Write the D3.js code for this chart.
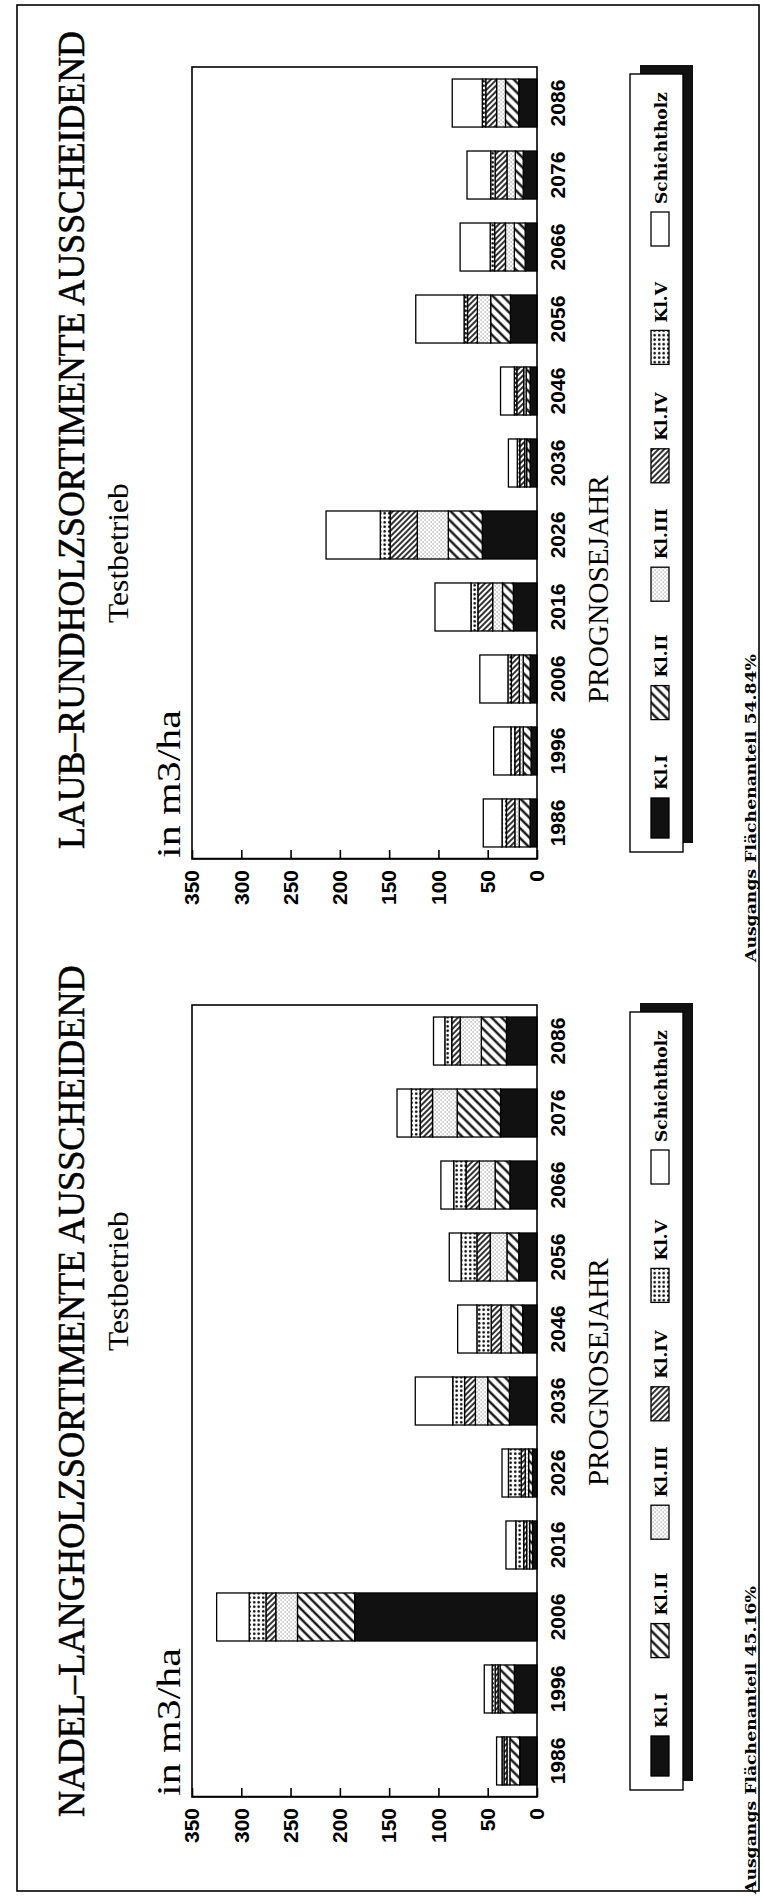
<!DOCTYPE html>
<html><head><meta charset="utf-8">
<script src="https://cdn.jsdelivr.net/npm/d3@7"></script>
<style>html,body{margin:0;padding:0;background:#fff;} svg{display:block}</style>
</head><body>
<svg id="c" width="763" height="1897"></svg>
<script>
// ---------- DATA ----------
const years = ["1986","1996","2006","2016","2026","2036","2046","2056","2066","2076","2086"];
const classes = ["Kl.I","Kl.II","Kl.III","Kl.IV","Kl.V","Schichtholz"];
const yTicks = [0,50,100,150,200,250,300,350];

// Nadel-Langholzsortimente (m3/ha)
const nadelKl1    = [17.5, 23, 185, 4.5, 4.5, 28, 14.5, 18.5, 27.5, 37, 31];
const nadelKl2    = [10, 14.5, 58, 3, 4, 22, 12, 12, 15, 44, 25.5];
const nadelKl3    = [3, 2, 22, 3, 3.5, 12.5, 10, 17, 16, 25, 21.5];
const nadelKl4    = [3, 3, 10, 3, 4, 11, 10, 13.5, 13.5, 12.5, 8.5];
const nadelKl5    = [2, 3, 17, 8, 13, 12, 14.5, 16, 12.5, 9, 7];
const nadelSchicht= [5.5, 8, 33, 10, 6.5, 38, 19.5, 12, 13, 14.5, 11.5];

// Laub-Rundholzsortimente (m3/ha)
const laubKl1     = [7, 6, 7, 24, 55.5, 7, 7, 27, 12, 14, 18.5];
const laubKl2     = [11, 8, 7, 11, 34.5, 3.5, 4, 20, 11, 8, 13.5];
const laubKl3     = [4.5, 3.5, 4, 10, 31.5, 2, 2.5, 13.5, 9, 8.5, 9];
const laubKl4     = [8.5, 5, 8, 15, 27.5, 5, 7, 10, 11, 12, 11];
const laubKl5     = [4.5, 4, 3.5, 7, 10, 2.5, 2.5, 3.5, 4.5, 4.5, 3.5];
const laubSchicht = [19, 17.5, 28.5, 36.5, 55, 9, 14, 49, 30.5, 24, 30.5];

const panels = [
  {u0:100, title:"NADEL\u2013LANGHOLZSORTIMENTE AUSSCHEIDEND", titleS:80, titleL:852, subC:616, progC:525,
   foot:"Ausgangs Fl\u00e4chenanteil 45.16%", footU:3,
   series:[nadelKl1,nadelKl2,nadelKl3,nadelKl4,nadelKl5,nadelSchicht]},
  {u0:1038, title:"LAUB\u2013RUNDHOLZSORTIMENTE AUSSCHEIDEND", titleS:1048, titleL:818, subC:1344, progC:1308,
   foot:"Ausgangs Fl\u00e4chenanteil 54.84%", footU:935,
   series:[laubKl1,laubKl2,laubKl3,laubKl4,laubKl5,laubSchicht]}
];

// ---------- LAYOUT ----------
const PW = 792, V0 = 537, V1 = 192;
const serif = "'Liberation Serif','Times New Roman',serif";
const sans = "'Liberation Sans',Arial,sans-serif";
const bserif = "'DejaVu Serif',serif";

const svg = d3.select('#c');
svg.append('rect').attr('width',763).attr('height',1897).attr('fill','#fff');
const defs = svg.append('defs');

function hatch(id, size, angle, w){
  const p = defs.append('pattern').attr('id',id).attr('patternUnits','userSpaceOnUse')
    .attr('width',size).attr('height',size).attr('patternTransform',`rotate(${angle})`);
  p.append('rect').attr('width',size).attr('height',size).attr('fill','#fff');
  p.append('line').attr('x1',size/2).attr('x2',size/2).attr('y1',-1).attr('y2',size+1)
    .attr('stroke','#000').attr('stroke-width',w);
}
hatch('p2', 7, 45, 2.2);
hatch('p4', 4, -45, 1.6);
{
  const p = defs.append('pattern').attr('id','p3').attr('patternUnits','userSpaceOnUse').attr('width',4).attr('height',4);
  p.append('rect').attr('width',4).attr('height',4).attr('fill','#fff');
  p.append('circle').attr('cx',1).attr('cy',1).attr('r',0.55).attr('fill','#444');
  p.append('circle').attr('cx',3).attr('cy',3).attr('r',0.55).attr('fill','#444');
}
{
  const p = defs.append('pattern').attr('id','p5').attr('patternUnits','userSpaceOnUse').attr('width',4.5).attr('height',4.5);
  p.append('rect').attr('width',4.5).attr('height',4.5).attr('fill','#fff');
  p.append('circle').attr('cx',2.25).attr('cy',2.25).attr('r',1.25).attr('fill','#000');
}
const fills = ['#111','url(#p2)','url(#p3)','url(#p4)','url(#p5)','#fff'];

const g = svg.append('g').attr('transform','translate(0,1897) rotate(-90)');

// text squeezed/stretched horizontally to a given length via transform
function fitText(parent, txt, u, v, len, anchor, attrs){
  const t = parent.append('text').attr('x',0).attr('y',0).text(txt);
  Object.entries(attrs).forEach(([k,val])=>t.attr(k,val));
  const nat = t.node().getComputedTextLength();
  const s = len/nat;
  const start = anchor==='middle' ? u - len/2 : u;
  t.attr('transform',`translate(${start},${v}) scale(${s},1)`);
  return t;
}

// outer frame
g.append('rect').attr('x',6).attr('y',17).attr('width',1886).attr('height',742)
  .attr('fill','none').attr('stroke','#000').attr('stroke-width',1.6);

panels.forEach(p=>{
  const x = d3.scaleBand().domain(years).range([p.u0, p.u0+PW]).paddingInner(0.333).paddingOuter(0.167);
  const y = d3.scaleLinear().domain([0,350]).range([V0, V1]);
  const rows = years.map((yr,i)=>{const o={year:yr}; classes.forEach((c,k)=>o[c]=p.series[k][i]); return o;});
  const stack = d3.stack().keys(classes)(rows);
  const pg = g.append('g');

  // titles
  fitText(pg, p.title, p.titleS, 84, p.titleL, 'start',
    {'font-family':serif,'font-size':38,'stroke':'#000','stroke-width':0.5});
  fitText(pg, 'Testbetrieb', p.subC, 128, 140, 'middle', {'font-family':serif,'font-size':30});
  fitText(pg, 'in m3/ha', p.u0+1, 180, 148, 'start', {'font-family':serif,'font-size':34});

  // bars
  stack.forEach((layer,k)=>{
    pg.append('g').selectAll('rect').data(layer).join('rect')
      .attr('x',d=>x(d.data.year)).attr('width',x.bandwidth())
      .attr('y',d=>y(d[1])).attr('height',d=>Math.max(0,y(d[0])-y(d[1])))
      .attr('fill',fills[k]).attr('stroke','#000').attr('stroke-width',1.3);
  });

  // plot frame
  pg.append('rect').attr('x',p.u0).attr('y',V1).attr('width',PW).attr('height',V0-V1)
    .attr('fill','none').attr('stroke','#000').attr('stroke-width',1.6);

  // value axis
  const ax = d3.axisLeft(y).tickValues(yTicks).tickSize(-9).tickSizeOuter(0).tickPadding(11).tickFormat(d3.format('d'));
  const axg = pg.append('g').attr('transform',`translate(${p.u0},0)`).call(ax);
  axg.select('.domain').attr('stroke-width',1.6);
  axg.selectAll('.tick line').attr('stroke-width',1.6);
  axg.selectAll('.tick text').attr('font-family',sans).attr('font-size',21).attr('font-weight','bold').attr('fill','#000');

  // category labels
  pg.append('g').selectAll('text').data(years).join('text')
    .attr('x',d=>x(d)+x.bandwidth()/2).attr('y',565).attr('text-anchor','middle')
    .attr('font-family',sans).attr('font-size',21).attr('font-weight','bold').text(d=>d);
  fitText(pg, 'PROGNOSEJAHR', p.progC, 608, 228, 'middle', {'font-family':serif,'font-size':30});

  // legend
  const L0 = p.u0+7, LW = 778, LV = 630, LH = 53;
  pg.append('rect').attr('x',L0+9).attr('y',LV+10).attr('width',LW).attr('height',LH).attr('fill','#111');
  pg.append('rect').attr('x',L0).attr('y',LV).attr('width',LW).attr('height',LH)
    .attr('fill','#fff').attr('stroke','#000').attr('stroke-width',1.4);
  const items = pg.append('g').selectAll('g').data(classes).join('g')
    .attr('transform',(d,i)=>`translate(${L0+14+i*118.4},0)`);
  items.append('rect').attr('x',0).attr('y',LV+21).attr('width',(d,i)=>i===0?40:34).attr('height',18)
    .attr('fill',(d,i)=>fills[i]).attr('stroke','#000').attr('stroke-width',1.3);
  items.append('text').attr('x',(d,i)=>(i===0?40:34)+8).attr('y',LV+37)
    .attr('font-family',bserif).attr('font-weight','bold').attr('font-size',17).text(d=>d);

  // footnote
  fitText(pg, p.foot, p.footU, 756, 308, 'start',
    {'font-family':bserif,'font-weight':'bold','font-size':15});
});
</script>
</body></html>
